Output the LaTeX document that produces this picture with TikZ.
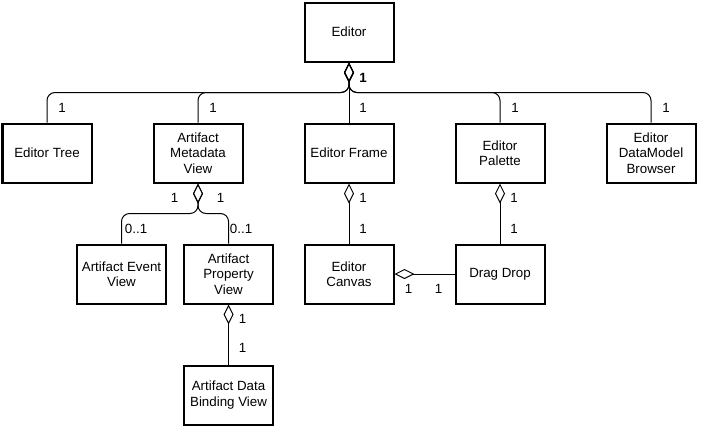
\documentclass[tikz,border=0pt]{standalone}
\usepackage{fontspec}
\setmainfont{Liberation Sans}
\usepackage{tikz}
\tikzset{class node/.style={draw,line width=1.5pt,minimum width=66.75pt,minimum height=44.25pt,align=center,inner sep=2pt,font=\fontsize{10}{11.6}\selectfont},
mult/.style={inner sep=0pt,font=\fontsize{10}{11.6}\selectfont},
agg/.style={{Diamond[open,length=15pt,width=7.5pt]}-,line width=0.75pt,rounded corners=6pt},
}
\usetikzlibrary{positioning,arrows.meta}
\begin{document}
\begin{tikzpicture}
			\useasboundingbox (0,0) rectangle (525.75pt,-324.75pt);
			
			%%
			\node[class node] (editor) at (261.75pt,-24pt) {Editor};
			\node[class node] (frame) [below = 45pt of editor] {Editor Frame};
			\node[class node] (meta) [left = 45pt of frame] {Artifact\\Metadata\\View};
			\node[class node] (tree) [left = 45pt of meta] {Editor Tree};
			\node[class node] (palette) [right = 45pt of frame] {Editor\\Palette};
			\node[class node] (browser) [right = 45pt of palette] {Editor\\DataModel\\Browser};
			\node[class node] (canvas) [below = 45pt of frame] {Editor\\Canvas};
			\node[class node] (drag) [below = 45pt of palette] {Drag Drop};
			\node[class node] (property) [below = 45pt of meta, xshift=22.9pt] {Artifact\\Property\\View};
			\node[class node] (event) [left = 12pt of property] {Artifact Event\\View};
			\node[class node] (binding) [below = 45pt of property] {Artifact Data\\Binding View};
			
			\draw[agg] (editor.south) node[mult,xshift=10.5pt,yshift=-11.25pt] {\textbf{1}}
			-- (frame.north) node[mult,xshift=10.5pt,yshift=11.25pt] {1};
			\draw[agg] (editor.south) -- ++(0,-22.5pt) -| (tree.north) node[mult,xshift=11.25pt,yshift=11.25pt] {1};
			\draw[agg] (editor.south) -- ++(0,-22.5pt) -| (meta.north) node[mult,xshift=11.25pt,yshift=11.25pt] {1};
			\draw[agg] (editor.south) -- ++(0,-22.5pt) -| (palette.north) node[mult,xshift=11.25pt,yshift=11.25pt] {1};
			\draw[agg] (editor.south) -- ++(0,-22.5pt) -| (browser.north) node[mult,xshift=11.25pt,yshift=11.25pt] {1};
			
			\draw[agg] (meta.south) node[mult,xshift=-17.5pt,yshift=-10.5pt] {1}
			-- ++(0,-22.5pt) -| (event.north) node[mult,xshift=10.9pt,yshift=11.25pt] {0..1};
			\draw[agg] (meta.south) node[mult,xshift=17pt,yshift=-10.5pt] {1}
			-- ++(0,-22.5pt) -| (property.north) node[mult,xshift=9.4pt,yshift=11.25pt] {0..1};
			\draw[agg] (property.south) node[mult,xshift=10.5pt,yshift=-10.5pt] {1}
			-- (binding.north) node[mult,xshift=10.5pt,yshift=12.75pt] {1};
			
			\draw[agg] (frame.south) node[mult,xshift=10.5pt,yshift=-10.5pt] {1}
			-- (canvas.north) node[mult,xshift=10.5pt,yshift=11.25pt] {1};
			\draw[agg] (palette.south) node[mult,xshift=10.5pt,yshift=-10.5pt] {1}
			-- (drag.north) node[mult,xshift=10.5pt,yshift=11.25pt] {1};
			\draw[agg] (canvas.east) node[mult,xshift=10.5pt,yshift=-11.25pt] {1}
			-- (drag.west) node[mult,xshift=-12pt,yshift=-11.25pt] {1};
			\end{tikzpicture}
\end{document}
